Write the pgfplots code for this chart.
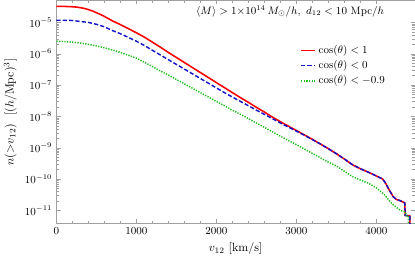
\documentclass[border=0pt]{standalone}
\usepackage{pgfplots}
\pgfplotsset{compat=1.18}
\definecolor{cred}{RGB}{255,0,0}
\definecolor{cblue}{RGB}{20,20,200}
\definecolor{cgreen}{RGB}{30,190,30}
\definecolor{framegray}{RGB}{160,160,160}
\begin{document}
\begin{tikzpicture}
\begin{axis}[
  scale only axis,
  width=300pt, height=187pt,
  ymode=log,
  xmin=0, xmax=4480,
  ymin=3.8e-12, ymax=5.1e-5,
  xtick={0,1000,2000,3000,4000},
  minor x tick num=4,
  ytick={1e-11,1e-10,1e-9,1e-8,1e-7,1e-6,1e-5},
  /pgf/number format/set thousands separator={},
  tick label style={font=\small},
  axis line style={framegray},
  every tick/.style={framegray},
  major tick length=3.5pt,
  minor tick length=2pt,
  xlabel={$v_{12}$ [km/s]},
  ylabel={$n({>}v_{12})$\ \ [$(h/\mathrm{Mpc})^3$]},
  legend style={at={(rel axis cs:0.67,0.82)}, anchor=north west, draw=none, fill=none, font=\small, row sep=0.5pt},
  legend cell align=left,
  legend image code/.code={\draw[#1] (0pt,0pt) -- (12pt,0pt);},
]
\addplot[color=cred, line width=1.3pt] coordinates {
(0,3.24e-5)(100,3.24e-5)(200,3.16e-5)(250,3.09e-5)(300,2.95e-5)(350,2.79e-5)(400,2.57e-5)(450,2.32e-5)(500,2.04e-5)(550,1.80e-5)
(600,1.55e-5)(650,1.32e-5)(700,1.12e-5)(800,8.51e-6)(900,6.31e-6)(1000,4.68e-6)(1100,3.39e-6)
(1200,2.34e-6)(1300,1.62e-6)(1400,1.10e-6)(1500,7.59e-7)(1600,5.25e-7)(1700,3.63e-7)
(1800,2.51e-7)(1900,1.74e-7)(2000,1.20e-7)(2100,8.32e-8)(2200,5.75e-8)(2300,3.98e-8)
(2400,2.82e-8)(2500,1.95e-8)(2600,1.38e-8)(2700,9.55e-9)(2800,6.76e-9)(2900,4.90e-9)
(3000,3.55e-9)(3100,2.57e-9)(3200,1.86e-9)(3300,1.32e-9)(3400,9.33e-10)(3500,6.46e-10)
(3600,4.37e-10)(3700,2.88e-10)(3800,2.14e-10)(3900,1.66e-10)(4000,1.26e-10)(4080,1.00e-10)
(4120,7.08e-11)(4150,5.01e-11)(4210,2.75e-11)(4250,2.24e-11)(4300,2.04e-11)(4355,1.74e-11)
(4360,6.92e-12)(4418,6.76e-12)(4420,1e-12)
};
\addlegendentry{$\cos(\theta)<1$}
\addplot[color=cblue, line width=1.2pt, dash pattern=on 3.5pt off 1.8pt] coordinates {
(0,1.17e-5)(100,1.17e-5)(200,1.15e-5)(250,1.11e-5)(300,1.07e-5)(350,1.035e-5)(400,1.00e-5)(450,9.33e-6)(500,8.71e-6)(550,7.94e-6)
(600,7.24e-6)(650,6.31e-6)(700,5.50e-6)(800,4.37e-6)(900,3.31e-6)(1000,2.51e-6)(1100,1.84e-6)
(1200,1.29e-6)(1300,9.12e-7)(1400,6.46e-7)(1500,4.57e-7)(1600,3.24e-7)(1700,2.29e-7)
(1800,1.62e-7)(1900,1.15e-7)(2000,8.13e-8)(2100,5.75e-8)(2200,4.17e-8)(2300,3.02e-8)
(2400,2.19e-8)(2500,1.58e-8)(2600,1.17e-8)(2700,8.51e-9)(2800,6.17e-9)(2900,4.57e-9)
(3000,3.39e-9)(3100,2.51e-9)(3200,1.82e-9)(3300,1.32e-9)(3400,9.33e-10)(3500,6.46e-10)
(3600,4.37e-10)(3700,2.88e-10)(3800,2.14e-10)(3900,1.66e-10)(4000,1.26e-10)(4080,1.00e-10)
(4120,7.08e-11)(4150,5.01e-11)(4210,2.75e-11)(4250,2.24e-11)(4300,2.04e-11)(4355,1.74e-11)
(4360,6.92e-12)(4418,6.76e-12)(4420,1e-12)
};
\addlegendentry{$\cos(\theta)<0$}
\addplot[color=cgreen, line width=1.2pt, dash pattern=on 1.1pt off 1.1pt] coordinates {
(0,2.51e-6)(100,2.45e-6)(200,2.34e-6)(300,2.19e-6)(400,2.00e-6)(500,1.78e-6)
(600,1.55e-6)(700,1.32e-6)(800,1.10e-6)(900,8.91e-7)(1000,7.24e-7)(1100,5.37e-7)
(1200,3.89e-7)(1300,2.82e-7)(1400,2.09e-7)(1500,1.51e-7)(1600,1.10e-7)(1700,7.94e-8)
(1800,5.75e-8)(1900,4.17e-8)(2000,3.02e-8)(2100,2.19e-8)(2200,1.58e-8)(2300,1.17e-8)
(2400,8.51e-9)(2500,6.17e-9)(2600,4.47e-9)(2700,3.24e-9)(2800,2.34e-9)(2900,1.70e-9)
(3000,1.26e-9)(3100,9.12e-10)(3200,6.61e-10)(3300,4.79e-10)(3400,3.47e-10)(3500,2.63e-10)
(3600,1.78e-10)(3700,1.20e-10)(3800,9.33e-11)(3900,7.41e-11)(4000,5.25e-11)(4100,3.16e-11)
(4200,1.58e-11)(4300,1.00e-11)(4360,8.91e-12)(4380,6.31e-12)(4400,6.31e-12)(4402,1e-12)
};
\addlegendentry{$\cos(\theta)<-0.9$}
\node[font=\small] at (rel axis cs:0.652,0.95) {$\langle M\rangle > 1{\times}10^{14}\,M_\odot/h,\ d_{12} < 10\ \mathrm{Mpc}/h$};
\end{axis}
\end{tikzpicture}
\end{document}
